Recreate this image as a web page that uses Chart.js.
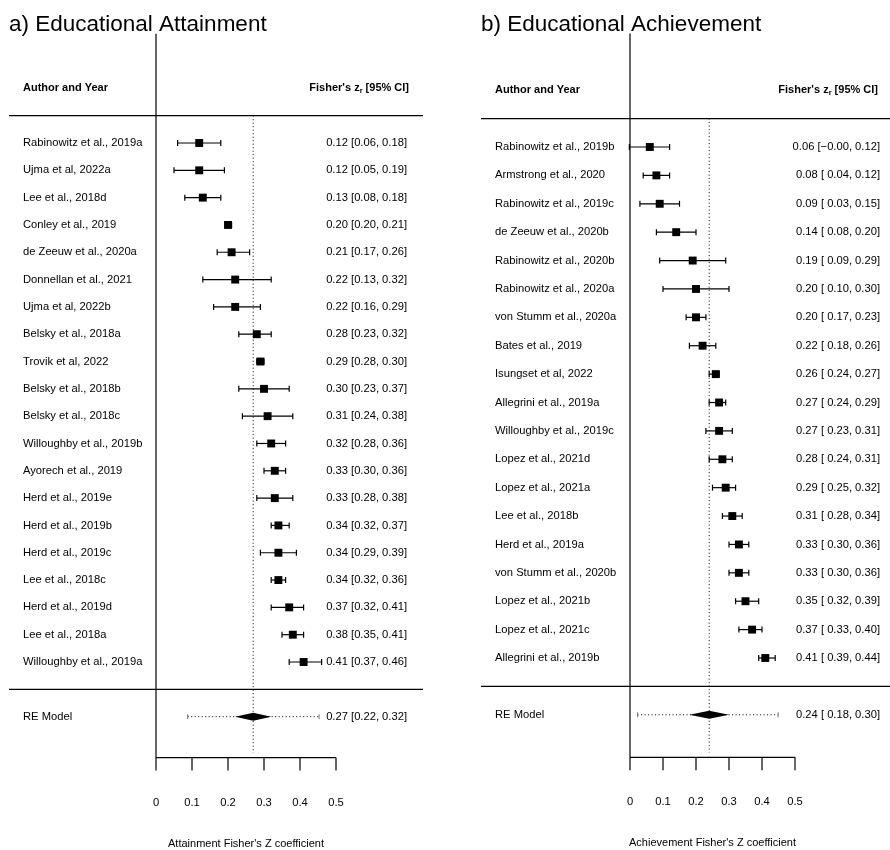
<!DOCTYPE html>
<html>
<head>
<meta charset="utf-8">
<script src="https://cdn.jsdelivr.net/npm/chart.js@4.4.1/dist/chart.umd.min.js"></script>
<style>
  body { margin: 0; background: #fff; }
  #wrap { position: relative; width: 890px; height: 850px; }
  .panel { position: absolute; top: 0; width: 445px; height: 850px; }
</style>
</head>
<body>
<div id="wrap">
  <div class="panel" style="left:0"><canvas id="attainChart" width="445" height="850"></canvas></div>
  <div class="panel" style="left:445px"><canvas id="achieveChart" width="445" height="850"></canvas></div>
</div>
<script>
// a) Educational Attainment
const attainStudies = [
  "Rabinowitz et al., 2019a", "Ujma et al, 2022a", "Lee et al., 2018d", "Conley et al., 2019",
  "de Zeeuw et al., 2020a", "Donnellan et al., 2021", "Ujma et al, 2022b", "Belsky et al., 2018a",
  "Trovik et al, 2022", "Belsky et al., 2018b", "Belsky et al., 2018c", "Willoughby et al., 2019b",
  "Ayorech et al., 2019", "Herd et al., 2019e", "Herd et al., 2019b", "Herd et al., 2019c",
  "Lee et al., 2018c", "Herd et al., 2019d", "Lee et al., 2018a", "Willoughby et al., 2019a",
];
const attainEst = [0.12, 0.12, 0.13, 0.20, 0.21, 0.22, 0.22, 0.28, 0.29, 0.30, 0.31, 0.32, 0.33, 0.33, 0.34, 0.34, 0.34, 0.37, 0.38, 0.41];
const attainLo  = [0.06, 0.05, 0.08, 0.20, 0.17, 0.13, 0.16, 0.23, 0.28, 0.23, 0.24, 0.28, 0.30, 0.28, 0.32, 0.29, 0.32, 0.32, 0.35, 0.37];
const attainHi  = [0.18, 0.19, 0.18, 0.21, 0.26, 0.32, 0.29, 0.32, 0.30, 0.37, 0.38, 0.36, 0.36, 0.38, 0.37, 0.39, 0.36, 0.41, 0.41, 0.46];
const attainRE  = [0.27, 0.22, 0.32];   // estimate, ci low, ci high
const attainPI  = [0.088, 0.453];       // prediction interval

// b) Educational Achievement
const achieveStudies = [
  "Rabinowitz et al., 2019b", "Armstrong et al., 2020", "Rabinowitz et al., 2019c", "de Zeeuw et al., 2020b",
  "Rabinowitz et al., 2020b", "Rabinowitz et al., 2020a", "von Stumm et al., 2020a", "Bates et al., 2019",
  "Isungset et al, 2022", "Allegrini et al., 2019a", "Willoughby et al., 2019c", "Lopez et al., 2021d",
  "Lopez et al., 2021a", "Lee et al., 2018b", "Herd et al., 2019a", "von Stumm et al., 2020b",
  "Lopez et al., 2021b", "Lopez et al., 2021c", "Allegrini et al., 2019b",
];
const achieveEst = [0.06, 0.08, 0.09, 0.14, 0.19, 0.20, 0.20, 0.22, 0.26, 0.27, 0.27, 0.28, 0.29, 0.31, 0.33, 0.33, 0.35, 0.37, 0.41];
const achieveLo  = [-0.002, 0.04, 0.03, 0.08, 0.09, 0.10, 0.17, 0.18, 0.24, 0.24, 0.23, 0.24, 0.25, 0.28, 0.30, 0.30, 0.32, 0.33, 0.39];
const achieveHi  = [0.12, 0.12, 0.15, 0.20, 0.29, 0.30, 0.23, 0.26, 0.27, 0.29, 0.31, 0.31, 0.32, 0.34, 0.36, 0.36, 0.39, 0.40, 0.44];
const achieveRE  = [0.24, 0.18, 0.30];
const achievePI  = [0.023, 0.449];

const xTicks = [0, 0.1, 0.2, 0.3, 0.4, 0.5];

const FONT = '"Liberation Sans", Arial, Helvetica, sans-serif';

function fmt(v) {
  return v.toFixed(2).replace("-", "\u2212");
}

function ciText(est, lo, hi, padLo) {
  let l = fmt(lo);
  if (padLo && lo >= 0) l = " " + l;
  return fmt(est) + " [" + l + ", " + fmt(hi) + "]";
}

function hline(ctx, x1, x2, y) {
  ctx.beginPath(); ctx.moveTo(x1, y); ctx.lineTo(x2, y); ctx.stroke();
}
function vline(ctx, x, y1, y2) {
  ctx.beginPath(); ctx.moveTo(x, y1); ctx.lineTo(x, y2); ctx.stroke();
}

function makeForest(canvasId, cfg) {
  const k = cfg.studies.length;
  const padLo = cfg.lo.some(v => v < 0) || cfg.re[1] < 0;

  const forestPlugin = {
    id: "forest",
    beforeDatasetsDraw(chart) {
      const { ctx } = chart;
      const x = chart.scales.x, y = chart.scales.y;
      const px = v => x.getPixelForValue(v);
      const py = v => y.getPixelForValue(v);
      ctx.save();
      ctx.strokeStyle = "#000";
      ctx.lineWidth = 1.2;

      // header and bottom rules
      hline(ctx, cfg.ruleLeft, cfg.ruleRight, py(k + 1));
      hline(ctx, cfg.ruleLeft, cfg.ruleRight, py(0));
      // vertical line at zero
      vline(ctx, px(0), py(k + 4), py(-2.5));
      // x axis
      hline(ctx, px(xTicks[0]), px(xTicks[xTicks.length - 1]), py(-2.5));
      xTicks.forEach(t => vline(ctx, px(t), py(-2.5), py(-2.5) + 13));

      // dotted reference line at RE estimate
      ctx.lineWidth = 1;
      ctx.setLineDash([1, 2.5]);
      vline(ctx, px(cfg.re[0]), py(k + 1), py(-2.33));
      // prediction interval
      hline(ctx, px(cfg.pi[0]), px(cfg.pi[1]), py(-1));
      ctx.setLineDash([]);
      ctx.strokeStyle = "#777";
      vline(ctx, px(cfg.pi[0]), py(-1) - 2.5, py(-1) + 2.5);
      vline(ctx, px(cfg.pi[1]), py(-1) - 2.5, py(-1) + 2.5);

      // confidence intervals
      ctx.strokeStyle = "#000";
      ctx.lineWidth = 1.2;
      cfg.est.forEach((e, i) => {
        const row = py(k - i);
        hline(ctx, px(cfg.lo[i]), px(cfg.hi[i]), row);
        vline(ctx, px(cfg.lo[i]), row - 3, row + 3);
        vline(ctx, px(cfg.hi[i]), row - 3, row + 3);
      });

      // summary diamond
      const dy = py(-1);
      ctx.fillStyle = "#000";
      ctx.beginPath();
      ctx.moveTo(px(cfg.re[1]), dy);
      ctx.lineTo(px(cfg.re[0]), dy - 4);
      ctx.lineTo(px(cfg.re[2]), dy);
      ctx.lineTo(px(cfg.re[0]), dy + 4);
      ctx.closePath();
      ctx.fill();
      ctx.restore();
    },
    afterDraw(chart) {
      const { ctx } = chart;
      const x = chart.scales.x, y = chart.scales.y;
      const px = v => x.getPixelForValue(v);
      const py = v => y.getPixelForValue(v);
      ctx.save();
      ctx.fillStyle = "#000";

      // panel title
      ctx.font = "22.5px " + FONT;
      ctx.textAlign = "left";
      ctx.textBaseline = "alphabetic";
      ctx.fillText(cfg.title, cfg.ruleLeft, 31);

      // headers
      ctx.textBaseline = "middle";
      ctx.font = "bold 11px " + FONT;
      ctx.fillText("Author and Year", cfg.labelX, py(k + 2));
      const h1 = "Fisher's z", h2 = "r", h3 = " [95% CI]";
      const w1 = ctx.measureText(h1).width, w3 = ctx.measureText(h3).width;
      ctx.font = "bold 7.5px " + FONT;
      const w2 = ctx.measureText(h2).width;
      let hx = cfg.headRight - (w1 + w2 + w3);
      ctx.font = "bold 11px " + FONT;
      ctx.fillText(h1, hx, py(k + 2));
      ctx.font = "bold 7.5px " + FONT;
      ctx.fillText(h2, hx + w1, py(k + 2) + 3);
      ctx.font = "bold 11px " + FONT;
      ctx.fillText(h3, hx + w1 + w2, py(k + 2));

      // study rows
      ctx.font = "11.2px " + FONT;
      cfg.studies.forEach((s, i) => {
        const row = py(k - i);
        ctx.textAlign = "left";
        ctx.fillText(s, cfg.labelX, row);
        ctx.textAlign = "right";
        ctx.fillText(ciText(cfg.est[i], cfg.lo[i], cfg.hi[i], padLo), cfg.valRight, row);
      });
      ctx.textAlign = "left";
      ctx.fillText("RE Model", cfg.labelX, py(-1));
      ctx.textAlign = "right";
      ctx.fillText(ciText(cfg.re[0], cfg.re[1], cfg.re[2], padLo), cfg.valRight, py(-1));

      // axis labels
      ctx.textAlign = "center";
      const axisY = py(-2.5);
      xTicks.forEach(t => ctx.fillText(String(t), px(t), axisY + 45));
      ctx.font = "11px " + FONT;
      const mid = (px(xTicks[0]) + px(xTicks[xTicks.length - 1])) / 2;
      ctx.fillText(cfg.xTitle, mid, axisY + 86);
      ctx.restore();
    },
  };

  return new Chart(document.getElementById(canvasId).getContext("2d"), {
    type: "scatter",
    data: {
      datasets: [{
        data: cfg.est.map((e, i) => ({ x: e, y: k - i })),
        pointStyle: "rect",
        pointRadius: 5.6,
        backgroundColor: "#000",
        borderWidth: 0,
      }],
    },
    options: {
      responsive: false,
      animation: false,
      devicePixelRatio: 1,
      events: [],
      layout: { padding: 0, autoPadding: false },
      scales: {
        x: { type: "linear", display: false, min: cfg.xMin, max: cfg.xMax },
        y: { type: "linear", display: false, min: cfg.yMin, max: cfg.yMax },
      },
      plugins: { legend: { display: false }, tooltip: { enabled: false } },
    },
    plugins: [forestPlugin],
  });
}

makeForest("attainChart", {
  title: "a) Educational Attainment",
  xTitle: "Attainment Fisher's Z coefficient",
  studies: attainStudies, est: attainEst, lo: attainLo, hi: attainHi,
  re: attainRE, pi: attainPI,
  xMin: -156 / 360, xMax: 289 / 360,
  yMin: -5.882, yMax: 25.235,
  ruleLeft: 9, ruleRight: 423, labelX: 23, valRight: 407, headRight: 409,
});

makeForest("achieveChart", {
  title: "b) Educational Achievement",
  xTitle: "Achievement Fisher's Z coefficient",
  studies: achieveStudies, est: achieveEst, lo: achieveLo, hi: achieveHi,
  re: achieveRE, pi: achievePI,
  xMin: -185 / 330, xMax: 260 / 330,
  yMin: -5.763, yMax: 24.178,
  ruleLeft: 36, ruleRight: 445, labelX: 50, valRight: 435, headRight: 433,
});
</script>
</body>
</html>
